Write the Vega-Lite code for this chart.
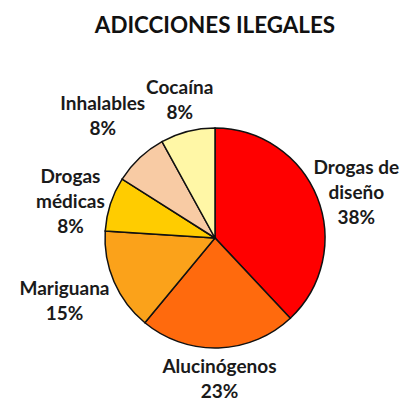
{
  "$schema": "https://vega.github.io/schema/vega-lite/v6.json",
  "width": 230,
  "height": 230,
  "autosize": {"type": "none"},
  "padding": {"left": 100, "top": 123, "right": 76, "bottom": 49},
  "background": "white",
  "title": {
    "text": "ADICCIONES ILEGALES",
    "font": "Lato",
    "fontSize": 22.4,
    "fontWeight": "bold",
    "color": "#111111",
    "anchor": "middle",
    "baseline": "alphabetic",
    "offset": 1
  },
  "data": {
    "values": [
      {"i": 1, "categoria": "Drogas de diseño", "pct": 38, "label": "Drogas de\ndiseño\n38%"},
      {"i": 2, "categoria": "Alucinógenos", "pct": 23, "label": "Alucinógenos\n23%"},
      {"i": 3, "categoria": "Mariguana", "pct": 15, "label": "Mariguana\n15%"},
      {"i": 4, "categoria": "Drogas médicas", "pct": 8, "label": "Drogas\nmédicas\n8%"},
      {"i": 5, "categoria": "Inhalables", "pct": 8, "label": "Inhalables\n8%"},
      {"i": 6, "categoria": "Cocaína", "pct": 8, "label": "Cocaína\n8%"}
    ]
  },
  "encoding": {
    "theta": {"field": "pct", "type": "quantitative", "stack": true},
    "order": {"field": "i", "type": "quantitative"}
  },
  "layer": [
    {
      "mark": {"type": "arc", "outerRadius": 110, "stroke": "#111111", "strokeWidth": 1.5},
      "encoding": {
        "color": {
          "field": "categoria",
          "type": "nominal",
          "legend": null,
          "scale": {
            "domain": ["Drogas de diseño", "Alucinógenos", "Mariguana", "Drogas médicas", "Inhalables", "Cocaína"],
            "range": ["#FF0000", "#FF6A0D", "#FBA21A", "#FFCC00", "#F8CBA4", "#FFF7A6"]
          }
        }
      }
    },
    {
      "mark": {"type": "text", "radius": 142, "dy": -12.5, "font": "Lato", "fontSize": 19, "fontWeight": "bold", "lineBreak": "\n", "lineHeight": 25, "align": "center", "baseline": "middle", "color": "#1a1a1a"},
      "encoding": {
        "text": {"condition": {"test": "datum.categoria == 'Cocaína' || datum.categoria == 'Alucinógenos'", "field": "label", "type": "nominal"}, "value": ""}
      }
    },
    {
      "mark": {"type": "text", "radius": 164, "dy": -14, "font": "Lato", "fontSize": 19, "fontWeight": "bold", "lineBreak": "\n", "lineHeight": 25, "align": "center", "baseline": "middle", "color": "#1a1a1a"},
      "encoding": {
        "text": {"condition": {"test": "datum.categoria == 'Inhalables' || datum.categoria == 'Mariguana'", "field": "label", "type": "nominal"}, "value": ""}
      }
    },
    {
      "mark": {"type": "text", "radius": 152, "dy": -14, "font": "Lato", "fontSize": 19, "fontWeight": "bold", "lineBreak": "\n", "lineHeight": 25, "align": "center", "baseline": "middle", "color": "#1a1a1a"},
      "encoding": {
        "text": {"condition": {"test": "test(/\\n.*\\n/, datum.label)", "field": "label", "type": "nominal"}, "value": ""}
      }
    }
  ],
  "config": {"view": {"stroke": null}}
}
